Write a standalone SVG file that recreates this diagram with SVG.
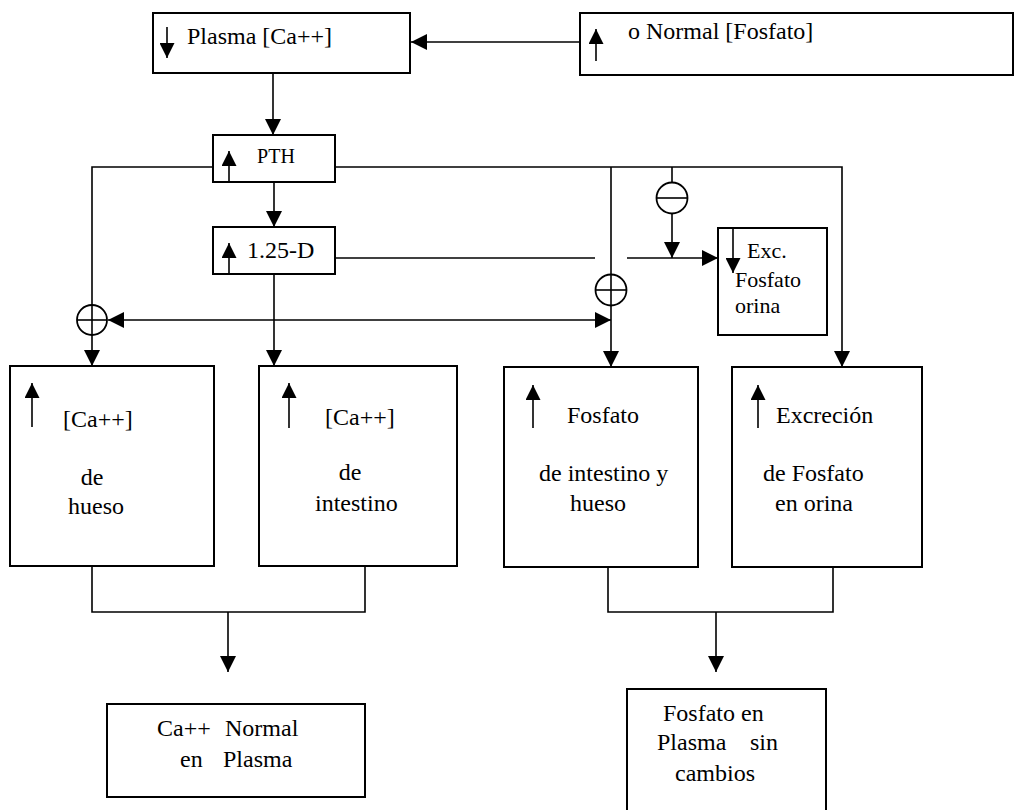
<svg xmlns="http://www.w3.org/2000/svg" width="1016" height="810" viewBox="0 0 1016 810">
<defs>
<marker id="ah" markerUnits="userSpaceOnUse" markerWidth="16" markerHeight="16" viewBox="0 0 15 15" refX="15" refY="7.5" orient="auto-start-reverse">
<path d="M0,0 L15,7.5 L0,15 Z" fill="#000"/>
</marker>
<marker id="sm" markerUnits="userSpaceOnUse" markerWidth="15" markerHeight="15" viewBox="0 0 14 14" refX="14" refY="7" orient="auto">
<path d="M0,0 L14,7 L0,14 Z" fill="#000"/>
</marker>
</defs>
<style>
.box{fill:#fff;stroke:#000;stroke-width:2}
.ln{fill:none;stroke:#000;stroke-width:1.6}
.ar{fill:none;stroke:#000;stroke-width:1.6;marker-end:url(#ah)}
.ind{fill:none;stroke:#000;stroke-width:1.6;marker-end:url(#sm)}
.circ{fill:#fff;stroke:#000;stroke-width:1.8}
text{font-family:"Liberation Serif","Times New Roman",serif;font-size:24px;fill:#000}
.c{text-anchor:middle}
</style>
<rect width="1016" height="810" fill="#fff"/>

<g id="connectors">
<line class="ar" x1="580" y1="42" x2="411" y2="42"/>
<line class="ar" x1="273" y1="73" x2="273" y2="135"/>
<line class="ar" x1="274" y1="182" x2="274" y2="227"/>
<polyline class="ar" points="213,167 92,167 92,366"/>
<line class="ln" x1="274" y1="274" x2="274" y2="320"/>
<line class="ar" x1="274" y1="320" x2="274" y2="366"/>
<line class="ln" x1="108" y1="320" x2="611" y2="320" marker-start="url(#ah)" marker-end="url(#ah)"/>
<polyline class="ar" points="335,167 842,167 842,367"/>
<line class="ar" x1="611" y1="167" x2="611" y2="367"/>
<line class="ar" x1="672" y1="167" x2="672" y2="258"/>
<line class="ln" x1="335" y1="258" x2="595" y2="258"/>
<line class="ar" x1="627" y1="258" x2="718" y2="258"/>
<polyline class="ln" points="92,566 92,612 365,612 365,566"/>
<line class="ar" x1="228" y1="612" x2="228" y2="672"/>
<polyline class="ln" points="608,567 608,612 833,612 833,567"/>
<line class="ar" x1="716" y1="612" x2="716" y2="672"/>
<g id="sign-plus-bone">
<circle class="circ" cx="92" cy="320" r="15"/>
<line class="ln" x1="77" y1="320" x2="107" y2="320"/>
<line class="ln" x1="92" y1="305" x2="92" y2="335"/>
</g>
<g id="sign-plus-phosphate">
<circle class="circ" cx="611" cy="290" r="15.5"/>
<line class="ln" x1="595.5" y1="290" x2="626.5" y2="290"/>
<line class="ln" x1="611" y1="274.5" x2="611" y2="305.5"/>
</g>
<g id="sign-minus">
<circle class="circ" cx="672" cy="198" r="15.5"/>
<line class="ln" x1="656.5" y1="198" x2="687.5" y2="198"/>
</g>
</g>

<g id="plasma-ca">
<rect class="box" x="153" y="13" width="257" height="60"/>
<line class="ind" x1="167" y1="27" x2="167" y2="58"/>
<text x="187" y="44">Plasma [Ca++]</text>
</g>

<g id="normal-fosfato">
<rect class="box" x="580" y="13" width="433" height="62"/>
<line class="ind" x1="596" y1="61" x2="596" y2="29"/>
<text x="628" y="39">o Normal [Fosfato]</text>
</g>

<g id="pth">
<rect class="box" x="213" y="135" width="122" height="47"/>
<line class="ind" x1="229" y1="182" x2="229" y2="151"/>
<text x="276" y="163" class="c" style="font-size:20px">PTH</text>
</g>

<g id="d125">
<rect class="box" x="213" y="227" width="122" height="47"/>
<line class="ind" x1="229" y1="274" x2="229" y2="243"/>
<text x="247" y="258">1.25-D</text>
</g>

<g id="exc-fosfato">
<rect class="box" x="718" y="228" width="109" height="107"/>
<line class="ind" x1="733" y1="228" x2="733" y2="273"/>
<text x="747" y="258" style="font-size:22px">Exc.</text>
<text x="735" y="287" style="font-size:22px">Fosfato</text>
<text x="735" y="313" style="font-size:22px">orina</text>
</g>

<g id="ca-hueso">
<rect class="box" x="10" y="366" width="204" height="200"/>
<line class="ind" x1="32" y1="427" x2="32" y2="383"/>
<text x="63" y="427">[Ca++]</text>
<text x="92" y="485" class="c">de</text>
<text x="68" y="514">hueso</text>
</g>

<g id="ca-intestino">
<rect class="box" x="259" y="366" width="198" height="200"/>
<line class="ind" x1="289" y1="428" x2="289" y2="383"/>
<text x="325" y="425">[Ca++]</text>
<text x="350" y="480" class="c">de</text>
<text x="315" y="511">intestino</text>
</g>

<g id="fosfato-intestino-hueso">
<rect class="box" x="504" y="367" width="194" height="200"/>
<line class="ind" x1="533" y1="428" x2="533" y2="385"/>
<text x="567" y="423">Fosfato</text>
<text x="539" y="481">de intestino y</text>
<text x="570" y="511">hueso</text>
</g>

<g id="excrecion-fosfato">
<rect class="box" x="732" y="367" width="190" height="200"/>
<line class="ind" x1="758" y1="428" x2="758" y2="385"/>
<text x="776" y="423">Excreción</text>
<text x="763" y="481">de Fosfato</text>
<text x="775" y="511">en orina</text>
</g>

<g id="ca-normal-plasma">
<rect class="box" x="107" y="704" width="258" height="93"/>
<text y="736"><tspan x="157">Ca++</tspan><tspan x="225">Normal</tspan></text>
<text y="767"><tspan x="180">en</tspan><tspan x="223">Plasma</tspan></text>
</g>

<g id="fosfato-plasma-sin-cambios">
<rect class="box" x="627" y="689" width="199" height="130"/>
<text x="663" y="721">Fosfato en</text>
<text y="750"><tspan x="657">Plasma</tspan><tspan x="750">sin</tspan></text>
<text x="675" y="781">cambios</text>
</g>
</svg>
